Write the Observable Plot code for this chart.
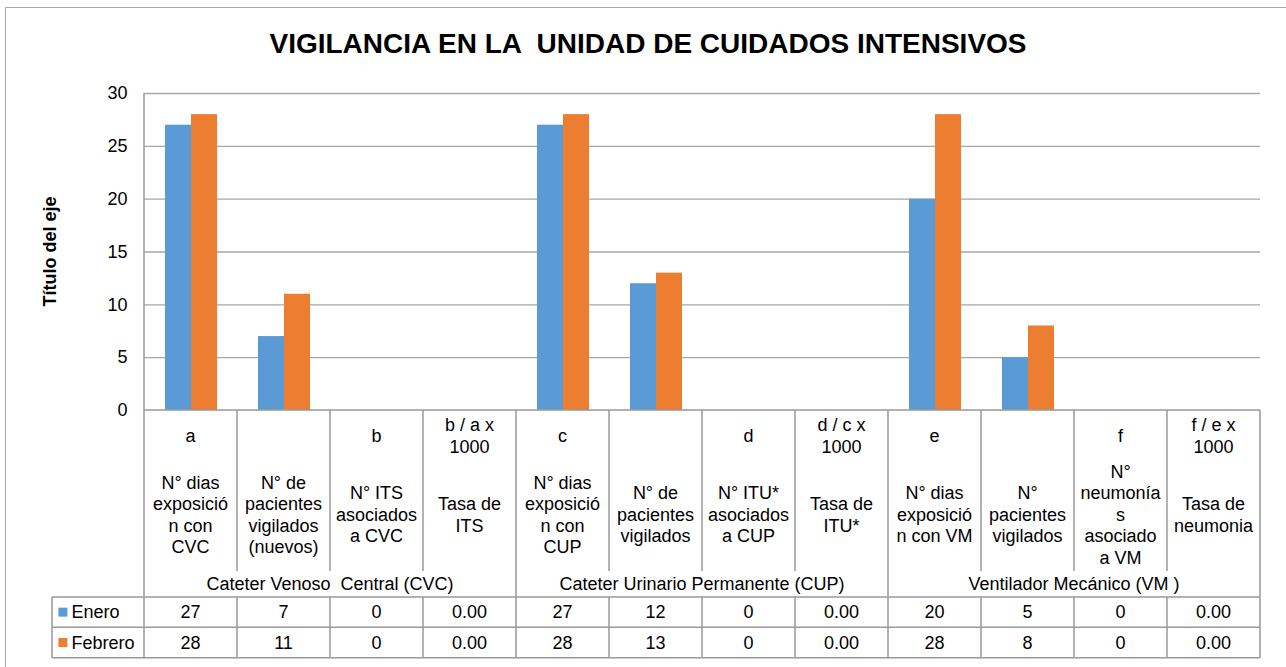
<!DOCTYPE html>
<html><head><meta charset="utf-8">
<script src="https://cdn.jsdelivr.net/npm/d3@7"></script>
<script src="https://cdn.jsdelivr.net/npm/@observablehq/plot@0.6"></script>
<style>
body{margin:0;background:#fff;font-family:"Liberation Sans",Arial,sans-serif;}
#wrap{position:relative;width:1286px;height:667px;overflow:hidden;background:#fff;}
#frame{position:absolute;left:5px;top:7px;width:1400px;height:800px;border:1px solid #a6a6a6;}
#title{position:absolute;left:0;top:28px;width:1296px;height:40px;text-align:center;font-size:28px;line-height:32px;font-weight:bold;color:#000;white-space:pre;}
#chart{position:absolute;left:0;top:80px;}
</style></head><body>
<div id="wrap"><div id="frame"></div><div id="title">VIGILANCIA EN LA  UNIDAD DE CUIDADOS INTENSIVOS</div><div id="chart"></div></div>
<script>
// ---- data ----
const categories = ["a", "pCVC", "b", "tITS", "c", "pCUP", "d", "tITU", "e", "pVM", "f", "tNEU"];
const letterLabels = ["a", "", "b", "b / a x\n1000", "c", "", "d", "d / c x\n1000", "e", "", "f", "f / e x\n1000"];
const descLabels = [
  "N° dias\nexposició\nn con\nCVC",
  "N° de\npacientes\nvigilados\n(nuevos)",
  "N° ITS\nasociados\na CVC",
  "Tasa de\nITS",
  "N° dias\nexposició\nn con\nCUP",
  "N° de\npacientes\nvigilados",
  "N° ITU*\nasociados\na CUP",
  "Tasa de\nITU*",
  "N° dias\nexposició\nn con VM",
  "N°\npacientes\nvigilados",
  "N°\nneumonía\ns\nasociado\na VM",
  "Tasa de\nneumonia"
];
const groupLabels = ["Cateter Venoso  Central (CVC)", "Cateter Urinario Permanente (CUP)", "Ventilador Mecánico (VM )"];
const groupOf = [0, 0, 0, 0, 1, 1, 1, 1, 2, 2, 2, 2];
const decimals = [0, 0, 0, 2, 0, 0, 0, 2, 0, 0, 0, 2];
const series = ["Enero", "Febrero"];
const enero = [27, 7, 0, 0, 27, 12, 0, 0, 20, 5, 0, 0];
const febrero = [28, 11, 0, 0, 28, 13, 0, 0, 28, 8, 0, 0];
const colors = ["#5B9BD5", "#ED7D31"];
const yTicks = [0, 5, 10, 15, 20, 25, 30];
const yTitle = "Título del eje";

const values = {Enero: enero, Febrero: febrero};
const rows = categories.flatMap((c, i) => series.map(s => ({cat: c, serie: s, value: values[s][i]})));

const FONT = '"Liberation Sans", Arial, sans-serif';

const chart = Plot.plot({
  width: 1286,
  height: 587,
  marginTop: 13,
  marginLeft: 144,
  marginRight: 26,
  marginBottom: 257,
  style: {fontFamily: FONT, fontSize: "18px", color: "#000", background: "transparent", overflow: "visible"},
  facet: {data: rows, x: "cat"},
  fx: {domain: categories, padding: 0, axis: null, label: null},
  x: {domain: series, paddingInner: 0, paddingOuter: 0.77, axis: null, label: null},
  y: {domain: [0, 30], ticks: yTicks, tickSize: 0, tickPadding: 17, label: null, tickFormat: d => String(d)},
  color: {domain: series, range: colors},
  marks: [
    Plot.ruleY(yTicks.filter(d => d > 0), {stroke: "#a6a6a6", strokeWidth: 1.3}),
    Plot.barY(rows, {x: "serie", y: "value", fill: "serie"})
  ]
});
document.getElementById("chart").appendChild(chart);

// ---- data table drawn with the plot's own scales ----
const fxS = chart.scale("fx");
const yS = chart.scale("y");
const fxBand = fxS.apply ? null : d3.scaleBand().domain(fxS.domain).range(fxS.range).padding(0);
const fx = c => fxS.apply ? fxS.apply(c) : fxBand(c);
const step = (fxS.range[1] - fxS.range[0]) / categories.length;
const y = v => yS.apply ? yS.apply(v) : d3.scaleLinear(yS.domain, yS.range)(v);

const svg = d3.select(chart);
const g = svg.append("g").attr("font-family", FONT).attr("font-size", 18).attr("fill", "#000").attr("text-anchor", "middle");
const y0 = y(0), yTop = y(30);
const xL = fx(categories[0]);
const xR = fx(categories[categories.length - 1]) + step;
const legendLeft = 52;
const headerEnd = y0 + 161, rowTop = y0 + 187, rowMid = y0 + 217.3, rowBot = y0 + 247.7;
const lineC = "#999", lineW = 1.5;

function line(x1, y1, x2, y2) {
  g.append("line").attr("x1", x1).attr("y1", y1).attr("x2", x2).attr("y2", y2)
    .attr("stroke", lineC).attr("stroke-width", lineW);
}
function multiText(x, cy, str, anchor = "middle") {
  const lines = str.split("\n");
  const L = 21.4;
  const t = g.append("text").attr("text-anchor", anchor).style("white-space", "pre");
  lines.forEach((ln, i) => {
    t.append("tspan").attr("x", x).attr("y", cy + (i - (lines.length - 1) / 2) * L).attr("dy", "0.35em").text(ln);
  });
}

// y axis line
line(xL, yTop, xL, rowBot);
// baseline at 0 and row lines
line(xL, y0, xR, y0);
[rowTop, rowMid, rowBot].forEach(yy => line(legendLeft, yy, xR, yy));
line(legendLeft, rowTop, legendLeft, rowBot);
// vertical lines
categories.forEach((c, i) => {
  const xe = fx(c) + step;
  const isGroupEnd = i === categories.length - 1 || groupOf[i + 1] !== groupOf[i];
  if (isGroupEnd) line(xe, y0, xe, rowBot);
  else { line(xe, y0, xe, headerEnd); line(xe, rowTop, xe, rowBot); }
});
// header text
categories.forEach((c, i) => {
  const cx = fx(c) + step / 2;
  if (letterLabels[i]) multiText(cx, y0 + 25.5, letterLabels[i]);
  multiText(cx, y0 + 104.5, descLabels[i]);
  series.forEach((s, k) => {
    const v = values[s][i];
    multiText(cx, (k === 0 ? rowTop + rowMid : rowMid + rowBot) / 2, d3.format(`.${decimals[i]}f`)(v));
  });
});
// group labels
groupLabels.forEach((lab, gi) => {
  const idx = categories.filter((c, i) => groupOf[i] === gi);
  const a = fx(idx[0]), b = fx(idx[idx.length - 1]) + step;
  multiText((a + b) / 2, y0 + 173.5, lab);
});
// legend keys in table
series.forEach((s, k) => {
  const cy = k === 0 ? (rowTop + rowMid) / 2 : (rowMid + rowBot) / 2;
  g.append("rect").attr("x", 58.4).attr("y", cy - 4.5).attr("width", 9).attr("height", 9).attr("fill", colors[k]);
  g.append("text").attr("x", 71.4).attr("y", cy).attr("dy", "0.35em").attr("text-anchor", "start").text(s);
});
// y axis title
g.append("text").attr("transform", `translate(56,${(y0 + yTop) / 2}) rotate(-90)`)
  .attr("text-anchor", "middle").attr("font-weight", "bold").text(yTitle);
</script>
</body></html>
